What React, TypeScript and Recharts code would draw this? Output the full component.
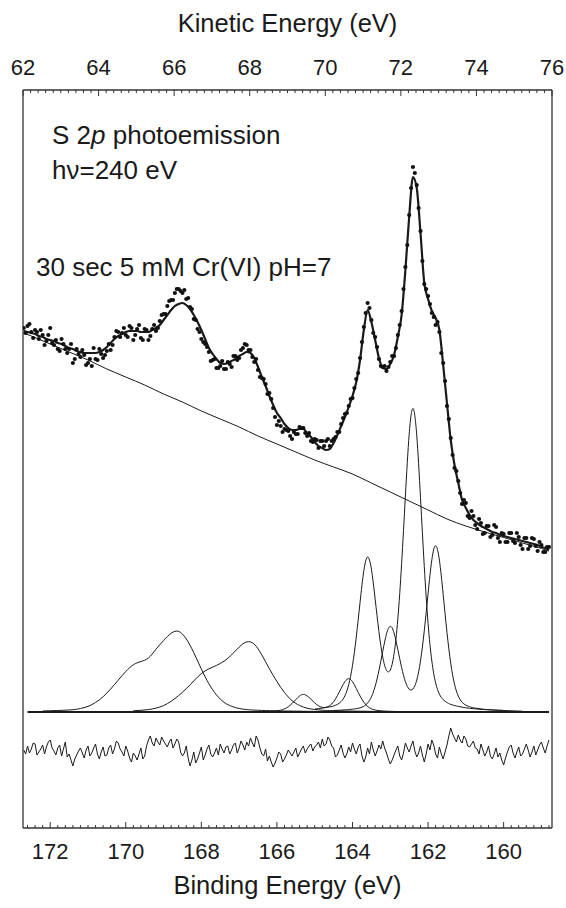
import { ComposedChart, Line, Scatter, XAxis, YAxis, ReferenceLine, Customized } from 'recharts'

// binding energy grid of the measured spectrum (eV)
const energyGrid = [
  172.7, 172.6, 172.5, 172.4, 172.3, 172.2, 172.1, 172.0, 171.9, 171.8,
  171.7, 171.6, 171.5, 171.4, 171.3, 171.2, 171.1, 171.0, 170.9, 170.8,
  170.7, 170.6, 170.5, 170.4, 170.3, 170.2, 170.1, 170.0, 169.9, 169.8,
  169.7, 169.6, 169.5, 169.4, 169.3, 169.2, 169.1, 169.0, 168.9, 168.8,
  168.7, 168.6, 168.5, 168.4, 168.3, 168.2, 168.1, 168.0, 167.9, 167.8,
  167.7, 167.6, 167.5, 167.4, 167.3, 167.2, 167.1, 167.0, 166.9, 166.8,
  166.7, 166.6, 166.5, 166.4, 166.3, 166.2, 166.1, 166.0, 165.9, 165.8,
  165.7, 165.6, 165.5, 165.4, 165.3, 165.2, 165.1, 165.0, 164.9, 164.8,
  164.7, 164.6, 164.5, 164.4, 164.3, 164.2, 164.1, 164.0, 163.9, 163.8,
  163.7, 163.6, 163.5, 163.4, 163.3, 163.2, 163.1, 163.0, 162.9, 162.8,
  162.7, 162.6, 162.5, 162.4, 162.3, 162.2, 162.1, 162.0, 161.9, 161.8,
  161.7, 161.6, 161.5, 161.4, 161.3, 161.2, 161.1, 161.0, 160.9, 160.8,
  160.7, 160.6, 160.5, 160.4, 160.3, 160.2, 160.1, 160.0, 159.9, 159.8,
  159.7, 159.6, 159.5, 159.4, 159.3, 159.2, 159.1, 159.0, 158.9, 158.8,
]

// measured intensity on the grid above (arb. units)
const measured = [
  384, 386, 380, 382, 373, 377, 371, 384, 367, 363,
  373, 363, 363, 349, 363, 355, 357, 349, 346, 353,
  363, 354, 361, 362, 375, 380, 379, 377, 386, 372,
  383, 374, 383, 372, 383, 381, 391, 398, 406, 412,
  419, 423, 419, 413, 405, 393, 383, 373, 368, 360,
  352, 344, 346, 343, 350, 345, 356, 354, 364, 367,
  362, 350, 342, 334, 328, 319, 304, 287, 286, 283,
  281, 273, 278, 285, 284, 276, 271, 273, 264, 271,
  271, 266, 273, 280, 288, 298, 306, 314, 333, 354,
  385, 409, 392, 375, 353, 345, 341, 350, 356, 377,
  401, 445, 497, 545, 527, 481, 428, 416, 399, 387,
  380, 349, 306, 274, 244, 231, 208, 209, 194, 196,
  183, 189, 179, 186, 177, 185, 170, 178, 170, 179,
  169, 175, 163, 174, 166, 173, 161, 167, 160, 165,
]

// second sweep, half way between the grid points
const midEnergy = [
  172.65, 172.55, 172.45, 172.35, 172.25, 172.15, 172.05, 171.95, 171.85, 171.75,
  171.65, 171.55, 171.45, 171.35, 171.25, 171.15, 171.05, 170.95, 170.85, 170.75,
  170.65, 170.55, 170.45, 170.35, 170.25, 170.15, 170.05, 169.95, 169.85, 169.75,
  169.65, 169.55, 169.45, 169.35, 169.25, 169.15, 169.05, 168.95, 168.85, 168.75,
  168.65, 168.55, 168.45, 168.35, 168.25, 168.15, 168.05, 167.95, 167.85, 167.75,
  167.65, 167.55, 167.45, 167.35, 167.25, 167.15, 167.05, 166.95, 166.85, 166.75,
  166.65, 166.55, 166.45, 166.35, 166.25, 166.15, 166.05, 165.95, 165.85, 165.75,
  165.65, 165.55, 165.45, 165.35, 165.25, 165.15, 165.05, 164.95, 164.85, 164.75,
  164.65, 164.55, 164.45, 164.35, 164.25, 164.15, 164.05, 163.95, 163.85, 163.75,
  163.65, 163.55, 163.45, 163.35, 163.25, 163.15, 163.05, 162.95, 162.85, 162.75,
  162.65, 162.55, 162.45, 162.35, 162.25, 162.15, 162.05, 161.95, 161.85, 161.75,
  161.65, 161.55, 161.45, 161.35, 161.25, 161.15, 161.05, 160.95, 160.85, 160.75,
  160.65, 160.55, 160.45, 160.35, 160.25, 160.15, 160.05, 159.95, 159.85, 159.75,
  159.65, 159.55, 159.45, 159.35, 159.25, 159.15, 159.05, 158.95, 158.85,
]
const measuredMid = [
  379, 388, 374, 380, 382, 367, 377, 369, 372, 361,
  368, 359, 368, 353, 358, 362, 347, 353, 364, 352,
  358, 357, 368, 367, 381, 375, 384, 375, 384, 377,
  387, 372, 382, 376, 387, 384, 397, 398, 411, 412,
  423, 421, 422, 414, 403, 392, 380, 370, 365, 351,
  353, 344, 351, 343, 348, 356, 352, 362, 368, 362,
  355, 353, 335, 333, 318, 313, 295, 291, 280, 282,
  276, 280, 278, 284, 279, 279, 270, 272, 271, 266,
  273, 271, 275, 280, 294, 299, 313, 324, 339, 370,
  399, 404, 379, 365, 346, 346, 345, 356, 364, 387,
  423, 467, 524, 539, 504, 451, 423, 408, 395, 390,
  359, 331, 293, 257, 241, 219, 212, 196, 201, 187,
  193, 178, 186, 175, 187, 174, 179, 170, 179, 171,
  179, 167, 174, 163, 174, 166, 170, 160, 165,
]

// total fit
const fitEnvelope = [
  381, 380, 379, 378, 376, 375, 373, 372, 371, 369,
  368, 366, 364, 363, 361, 360, 359, 359, 359, 359,
  360, 362, 365, 369, 373, 376, 378, 380, 381, 381,
  381, 380, 380, 380, 382, 384, 387, 392, 397, 402,
  406, 408, 409, 407, 403, 397, 390, 382, 373, 364,
  358, 353, 349, 348, 349, 351, 353, 356, 358, 360,
  359, 354, 345, 335, 326, 316, 307, 299, 294, 288,
  284, 282, 282, 283, 283, 279, 275, 270, 266, 264,
  262, 263, 269, 277, 286, 295, 305, 316, 330, 352,
  382, 402, 390, 372, 354, 344, 343, 348, 357, 375,
  397, 442, 495, 535, 524, 479, 429, 413, 401, 394,
  382, 347, 309, 272, 247, 229, 212, 204, 197, 192,
  189, 186, 184, 182, 180, 179, 177, 176, 175, 174,
  173, 172, 171, 170, 169, 168, 167, 165, 164, 162,
]

// fit residual, drawn offset below the components
const residual = [
  -38, -34, -37, -32, -40, -33, -35, -28, -39, -36,
  -44, -30, -42, -54, -43, -36, -46, -34, -41, -32,
  -47, -35, -43, -33, -37, -31, -40, -34, -46, -41,
  -48, -36, -44, -28, -31, -26, -33, -29, -35, -27,
  -32, -30, -44, -34, -54, -40, -47, -35, -43, -33,
  -45, -36, -32, -41, -34, -38, -31, -36, -33, -30,
  -26, -35, -28, -42, -37, -44, -55, -46, -42, -47,
  -38, -44, -36, -41, -34, -37, -32, -35, -30, -27,
  -32, -28, -36, -43, -33, -46, -35, -31, -42, -32,
  -50, -36, -30, -44, -33, -29, -41, -52, -43, -34,
  -48, -31, -40, -29, -45, -34, -50, -32, -28, -42,
  -35, -47, -33, -16, -26, -23, -31, -27, -35, -29,
  -37, -32, -44, -34, -47, -36, -41, -53, -40, -33,
  -46, -35, -42, -32, -45, -34, -38, -30, -41, -28,
]
const residualMid = [
  -42, -41, -31, -43, -37, -42, -30, -36, -43, -33,
  -37, -45, -48, -47, -39, -41, -38, -44, -36, -42,
  -40, -44, -36, -42, -29, -37, -44, -39, -50, -44,
  -42, -47, -34, -24, -34, -30, -25, -32, -30, -36,
  -27, -40, -41, -46, -48, -51, -41, -48, -37, -42,
  -41, -43, -37, -35, -42, -33, -41, -29, -38, -34,
  -31, -24, -36, -44, -49, -50, -51, -40, -50, -43,
  -41, -40, -45, -37, -41, -34, -39, -33, -36, -34,
  -25, -34, -45, -38, -41, -42, -40, -37, -35, -44,
  -45, -42, -38, -39, -37, -36, -47, -48, -38, -44,
  -41, -36, -34, -39, -41, -43, -42, -38, -33, -46,
  -42, -40, -24, -22, -30, -28, -24, -34, -32, -36,
  -42, -38, -40, -44, -42, -45, -48, -46, -35, -41,
  -40, -44, -37, -38, -40, -43, -33, -36, -34,
]

// Shirley-type background
const backgroundEnergy = [
  172.7, 172.5, 172.0, 171.5, 171.0, 170.5, 170.0, 169.5, 169.0, 168.5,
  168.0, 167.5, 167.0, 166.5, 166.0, 165.5, 165.0, 164.5, 164.0, 163.5,
  163.0, 162.5, 162.0, 161.5, 161.0, 160.5, 160.0, 159.5, 159.0, 158.8,
]
const backgroundLevel = [
  379, 376, 368, 360, 352, 343, 335, 327, 318, 310,
  301, 293, 285, 276, 268, 260, 252, 245, 238, 229,
  220, 211, 202, 193, 186, 180, 174.5, 169, 163.5, 161,
]

// component doublets
const doubletAEnergy = [
  172.2, 171.8, 171.4, 171.2, 171.0, 170.8, 170.6, 170.4, 170.2, 170.0,
  169.8, 169.6, 169.4, 169.2, 169.0, 168.8, 168.6, 168.4, 168.2, 168.0,
  167.8, 167.6, 167.4, 167.2, 167.0, 166.8, 166.6, 166.2, 165.8, 165.4,
  165.0, 164.0,
]
const doubletALevel = [
  1.0, 1.5, 2.3, 3.5, 5.6, 9.5, 15.3, 23.0, 31.9, 40.5,
  47.2, 50.5, 54.0, 62.8, 71.4, 78.7, 80.6, 73.1, 59.3, 42.9,
  28.2, 17.1, 9.7, 5.7, 3.5, 2.4, 1.9, 1.3, 1.0, 0.8,
  0.6, 0.3,
]

const doubletBEnergy = [
  169.8, 169.6, 169.4, 169.2, 169.0, 168.8, 168.6, 168.4, 168.2, 168.0,
  167.8, 167.6, 167.4, 167.2, 167.0, 166.8, 166.6, 166.4, 166.2, 166.0,
  165.8, 165.6, 165.4, 165.2, 165.0, 164.8, 164.6, 164.2, 163.8, 163.4,
  162.8,
]
const doubletBLevel = [
  1.2, 1.7, 2.4, 3.9, 6.4, 10.7, 16.5, 23.3, 31.1, 38.4,
  43.2, 46.6, 50.8, 57.1, 64.9, 70.1, 67.8, 57.1, 43.3, 30.5,
  19.5, 11.4, 6.5, 3.8, 2.5, 1.8, 1.4, 1.0, 0.8, 0.6,
  0.4,
]

const doubletCEnergy = [
  166.5, 166.2, 166.0, 165.9, 165.8, 165.7, 165.6, 165.5, 165.4, 165.3,
  165.2, 165.1, 165.0, 164.9, 164.8, 164.7, 164.6, 164.5, 164.4, 164.3,
  164.2, 164.1, 164.0, 163.9, 163.8, 163.7, 163.6, 163.5, 163.4, 163.3,
  163.1, 162.8, 162.5,
]
const doubletCLevel = [
  0.4, 0.7, 1.2, 1.8, 3.1, 5.2, 8.5, 12.4, 16.0, 17.6,
  16.1, 12.8, 9.1, 6.2, 4.7, 4.7, 6.4, 10.2, 16.3, 23.7,
  30.4, 33.3, 30.3, 23.5, 16.0, 9.8, 5.6, 3.2, 2.0, 1.4,
  0.8, 0.5, 0.3,
]

const doubletDEnergy = [
  165.0, 164.8, 164.6, 164.5, 164.4, 164.3, 164.2, 164.1, 164.0, 163.9,
  163.8, 163.7, 163.6, 163.5, 163.4, 163.3, 163.2, 163.1, 163.0, 162.9,
  162.8, 162.7, 162.6, 162.5, 162.4, 162.3, 162.2, 162.1, 162.0, 161.9,
  161.8, 161.7, 161.6, 161.5, 161.4, 161.2, 161.0, 160.8, 160.5, 160.0,
]
const doubletDLevel = [
  2.9, 3.9, 5.1, 6.0, 7.6, 10.5, 16.3, 27.4, 46.4, 75.0,
  109.6, 141.3, 155.0, 142.9, 112.8, 80.4, 54.9, 41.7, 42.0, 58.1,
  93.0, 148.2, 216.0, 277.7, 303.5, 276.9, 214.3, 145.5, 88.7, 51.0,
  29.1, 17.9, 12.3, 9.5, 7.6, 5.6, 4.2, 3.3, 2.4, 1.6,
]

const doubletEEnergy = [
  164.5, 164.2, 164.0, 163.9, 163.8, 163.7, 163.6, 163.5, 163.4, 163.3,
  163.2, 163.1, 163.0, 162.9, 162.8, 162.7, 162.6, 162.5, 162.4, 162.3,
  162.2, 162.1, 162.0, 161.9, 161.8, 161.7, 161.6, 161.5, 161.4, 161.3,
  161.2, 161.1, 161.0, 160.9, 160.8, 160.6, 160.4, 160.0, 159.5,
]
const doubletELevel = [
  1.5, 2.1, 2.8, 3.3, 4.2, 5.7, 9.0, 15.1, 25.7, 41.5,
  60.6, 78.1, 85.7, 79.0, 62.4, 44.5, 30.4, 22.9, 23.0, 31.8,
  51.1, 81.3, 118.4, 152.2, 166.4, 151.8, 117.5, 79.8, 48.7, 27.9,
  15.9, 9.8, 6.8, 5.3, 4.2, 3.1, 2.3, 1.5, 0.8,
]

const baselineEnergy = [172.6, 158.8]
const baselineLevel = [0, 0]

const kineticTicks = [62, 64, 66, 68, 70, 72, 74, 76]
const bindingTicks = [172, 170, 168, 166, 164, 162, 160]

const W = 566
const H = 908
const INK = '#1a1a1a'
const FONT = '"Liberation Sans", Arial, Helvetica, sans-serif'
const BE_DOMAIN: [number, number] = [158.72, 172.72]
const KE_DOMAIN: [number, number] = [62, 76]

const rows = (xs: number[], ys: number[]) => xs.map((be, i) => ({ be, v: ys[i] }))

const minorSteps = (from: number, to: number) => {
  const out: number[] = []
  for (let k = Math.round(from * 5); k <= Math.round(to * 5); k++) out.push(Math.round(k * 2) / 10)
  return out
}

const isMajor = (v: number, list: number[]) => list.some((t) => Math.abs(t - v) < 1e-6)

function BottomTick(props: any) {
  const { x, y, payload } = props
  const v = payload.value
  const major = isMajor(v, bindingTicks)
  return (
    <g>
      <line x1={x} x2={x} y1={y} y2={y - (major ? 6 : 3)} stroke="#333" strokeWidth={1} />
      {major && (
        <text x={x} y={y + 23} textAnchor="middle" dominantBaseline="central" fontSize={22} fontFamily={FONT} fill={INK}>
          {v}
        </text>
      )}
    </g>
  )
}

function TopTick(props: any) {
  const { x, y, payload } = props
  const v = payload.value
  const major = isMajor(v, kineticTicks)
  return (
    <g>
      <line x1={x} x2={x} y1={y} y2={y + (major ? 6 : 3)} stroke="#333" strokeWidth={1} />
      {major && (
        <text x={x} y={y - 23} textAnchor="middle" dominantBaseline="central" fontSize={22} fontFamily={FONT} fill={INK}>
          {v}
        </text>
      )}
    </g>
  )
}

function Annotations() {
  const common = { fontFamily: FONT, fill: INK, dominantBaseline: 'central' as const }
  return (
    <g>
      <text x={287.5} y={23} textAnchor="middle" fontSize={25.5} {...common}>
        Kinetic Energy (eV)
      </text>
      <text x={287.5} y={885} textAnchor="middle" fontSize={25.5} {...common}>
        Binding Energy (eV)
      </text>
      <text x={52} y={135} fontSize={26} {...common}>
        S 2<tspan fontStyle="italic">p</tspan> photoemission
      </text>
      <text x={52} y={170} fontSize={26} {...common}>
        hν=240 eV
      </text>
      <text x={36} y={267} fontSize={26} {...common}>
        30 sec 5 mM Cr(VI) pH=7
      </text>
    </g>
  )
}

const Dot = (p: any) => <circle cx={p.cx} cy={p.cy} r={2.1} fill="#111" />

export default function App() {
  const components = [
    rows(doubletAEnergy, doubletALevel),
    rows(doubletBEnergy, doubletBLevel),
    rows(doubletCEnergy, doubletCLevel),
    rows(doubletDEnergy, doubletDLevel),
    rows(doubletEEnergy, doubletELevel),
  ]
  const residualRows = [...rows(energyGrid, residual), ...rows(midEnergy, residualMid)].sort(
    (a, b) => b.be - a.be,
  )
  // invisible series that anchors the kinetic-energy axis
  const keAnchor = KE_DOMAIN.map((ke) => ({ ke, v: 0 }))

  return (
    <div style={{ position: 'absolute', left: 0, top: 0, width: W, height: H }}>
      <ComposedChart width={W} height={H} margin={{ top: 0, right: 14, bottom: 0, left: 23 }}>
        <XAxis
          xAxisId="be"
          dataKey="be"
          type="number"
          domain={BE_DOMAIN}
          allowDataOverflow
          reversed
          orientation="bottom"
          height={80}
          ticks={minorSteps(158.8, 172.6)}
          interval={0}
          tickSize={0}
          tickMargin={0}
          tickLine={false}
          tick={<BottomTick />}
          axisLine={{ stroke: '#333', strokeWidth: 1.3 }}
        />
        <XAxis
          xAxisId="ke"
          dataKey="ke"
          type="number"
          domain={KE_DOMAIN}
          allowDataOverflow
          orientation="top"
          height={90}
          ticks={minorSteps(62, 76)}
          interval={0}
          tickSize={0}
          tickMargin={0}
          tickLine={false}
          tick={<TopTick />}
          axisLine={{ stroke: '#333', strokeWidth: 1.3 }}
        />
        <YAxis yAxisId="y" type="number" domain={[-116, 622]} allowDataOverflow hide />

        <ReferenceLine xAxisId="be" yAxisId="y" x={BE_DOMAIN[1]} stroke="#333" strokeWidth={1.3} />
        <ReferenceLine xAxisId="be" yAxisId="y" x={BE_DOMAIN[0]} stroke="#333" strokeWidth={1.3} />

        <Line
          xAxisId="ke"
          yAxisId="y"
          data={keAnchor}
          dataKey="v"
          stroke="none"
          dot={false}
          activeDot={false}
          isAnimationActive={false}
        />
        <Line
          xAxisId="be"
          yAxisId="y"
          data={rows(baselineEnergy, baselineLevel)}
          dataKey="v"
          type="linear"
          stroke={INK}
          strokeWidth={2}
          dot={false}
          activeDot={false}
          isAnimationActive={false}
        />
        {components.map((d, i) => (
          <Line
            key={`comp-${i}`}
            xAxisId="be"
            yAxisId="y"
            data={d}
            dataKey="v"
            type="natural"
            stroke={INK}
            strokeWidth={1}
            dot={false}
            activeDot={false}
            isAnimationActive={false}
          />
        ))}
        <Line
          xAxisId="be"
          yAxisId="y"
          data={rows(backgroundEnergy, backgroundLevel)}
          dataKey="v"
          type="monotone"
          stroke={INK}
          strokeWidth={1}
          dot={false}
          activeDot={false}
          isAnimationActive={false}
        />
        <Line
          xAxisId="be"
          yAxisId="y"
          data={residualRows}
          dataKey="v"
          type="linear"
          stroke={INK}
          strokeWidth={1}
          dot={false}
          activeDot={false}
          isAnimationActive={false}
        />
        <Line
          xAxisId="be"
          yAxisId="y"
          data={rows(energyGrid, fitEnvelope)}
          dataKey="v"
          type="monotone"
          stroke={INK}
          strokeWidth={2.2}
          dot={false}
          activeDot={false}
          isAnimationActive={false}
        />
        <Scatter
          xAxisId="be"
          yAxisId="y"
          data={rows(energyGrid, measured)}
          dataKey="v"
          shape={Dot}
          isAnimationActive={false}
        />
        <Scatter
          xAxisId="be"
          yAxisId="y"
          data={rows(midEnergy, measuredMid)}
          dataKey="v"
          shape={Dot}
          isAnimationActive={false}
        />
        <Customized component={Annotations} />
      </ComposedChart>
    </div>
  )
}
